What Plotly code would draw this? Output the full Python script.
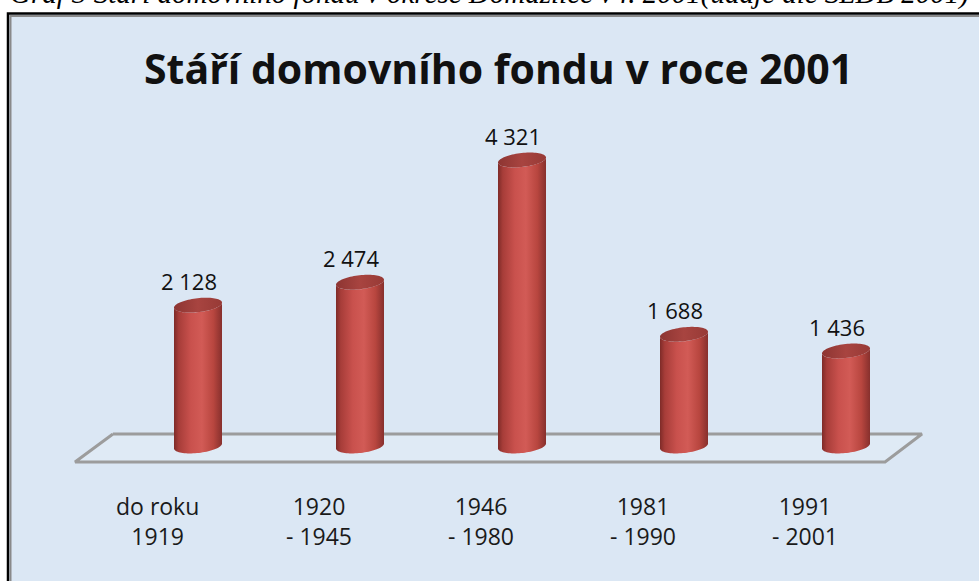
import numpy as np
import plotly.graph_objects as go

# ---- data ----
categories = ["do roku<br>1919", "1920<br>- 1945", "1946<br>- 1980", "1981<br>- 1990", "1991<br>- 2001"]
values = [2128, 2474, 4321, 1688, 1436]
title_text = "Stáří domovního fondu v roce 2001"
caption_text = "Graf 3 Stáří domovního fondu v okrese Domažlice v r. 2001(údaje dle SLDB 2001)"

# ---- geometry (pixel layout of the frame) ----
W, H = 979, 581
PX_PER_CAT = 162.0
FIRST_CAT_PX = 198.0
ZERO_PX = 446.0
PX_PER_UNIT = 286.0 / 4321.0

x_range = [(0 - FIRST_CAT_PX) / PX_PER_CAT, (W - FIRST_CAT_PX) / PX_PER_CAT]
y_range = [-(H - ZERO_PX) / PX_PER_UNIT, ZERO_PX / PX_PER_UNIT]

def dx(px):  # pixel distance -> x data distance
    return px / PX_PER_CAT

def dy(px):  # pixel distance -> y data distance
    return px / PX_PER_UNIT

half_w = dx(24)
ell_h = dy(7)
tilt = dy(2.5)

body_scale = [[0.0, "#7e2b28"], [0.10, "#a73d39"], [0.35, "#c9514d"], [0.58, "#d25b56"],
              [0.82, "#b8463f"], [1.0, "#87302d"]]
cap_scale = [[0.0, "#8d3532"], [0.5, "#a84440"], [1.0, "#973a36"]]

fig = go.Figure()

# floor (3-D base plane)
n = len(values)
bl, br = -0.525, n - 1 + 0.469
fl, fr = -0.759, n - 1 + 0.241
yb, yf = dy(ZERO_PX - 434), -dy(462 - ZERO_PX)
fig.add_trace(go.Scatter(
    x=[bl, br, fr, fl, bl], y=[yb, yb, yf, yf, yb], mode="lines",
    line=dict(color="#9c9c9c", width=3), fill="toself", fillcolor="rgba(255,255,255,0.12)",
    hoverinfo="skip", showlegend=False))

theta_front = np.linspace(np.pi, 2 * np.pi, 40)
theta_full = np.linspace(0, 2 * np.pi, 80)

for i, v in enumerate(values):
    tx = i + half_w * np.cos(theta_front)
    ty = v + ell_h * np.sin(theta_front) + tilt * np.cos(theta_front)
    bx = tx[::-1]
    by = (0 + ell_h * np.sin(theta_front) + tilt * np.cos(theta_front))[::-1]
    xs = np.concatenate([tx, bx, tx[:1]])
    ys = np.concatenate([ty, by, ty[:1]])
    fig.add_trace(go.Scatter(
        x=xs, y=ys, mode="none", fill="toself",
        fillgradient=dict(type="horizontal", colorscale=body_scale),
        hoverinfo="skip", showlegend=False))
    cx = i + half_w * np.cos(theta_full)
    cy = v + ell_h * np.sin(theta_full) + tilt * np.cos(theta_full)
    fig.add_trace(go.Scatter(
        x=cx, y=cy, mode="none", fill="toself",
        fillgradient=dict(type="horizontal", colorscale=cap_scale),
        hoverinfo="skip", showlegend=False))

# value labels
for i, v in enumerate(values):
    fig.add_annotation(
        x=i - dx(9), y=v, yanchor="bottom", yshift=7,
        text=f"{v:,}".replace(",", " "), showarrow=False,
        font=dict(family="Open Sans", size=22, color="#111111"))

# category labels
for i, c in enumerate(categories):
    fig.add_annotation(
        x=i - dx(41), y=-dy(521 - ZERO_PX), yanchor="middle",
        text=c, showarrow=False,
        font=dict(family="Open Sans", size=23, color="#1a1a1a"))

# title
fig.add_annotation(
    x=498 / W, y=1 - 68 / H, xref="paper", yref="paper", yanchor="middle",
    text=f"<b>{title_text}</b>", showarrow=False,
    font=dict(family="Open Sans", size=41, color="#111111"))

# caption (cut off at the top edge, as in the source)
fig.add_annotation(
    x=8 / W, y=1 - 12.5 / H, xref="paper", yref="paper", xanchor="left", yanchor="bottom",
    text=f"<i>{caption_text}</i>", showarrow=False,
    font=dict(family="Liberation Serif", size=29, color="#000000"))

# frame
fig.add_shape(type="rect", xref="paper", yref="paper",
              x0=8 / W, x1=1.05, y0=-0.05, y1=1 - 13.5 / H,
              line=dict(color="#000000", width=2.5), fillcolor="#dbe7f4", layer="below")
fig.add_shape(type="rect", xref="paper", yref="paper",
              x0=10.5 / W, x1=1.05, y0=-0.05, y1=1 - 16 / H,
              line=dict(color="#8a8a8a", width=2), fillcolor="rgba(0,0,0,0)", layer="below")

fig.update_layout(
    width=W, height=H, margin=dict(l=0, r=0, t=0, b=0),
    paper_bgcolor="#ffffff", plot_bgcolor="rgba(0,0,0,0)",
    xaxis=dict(range=x_range, visible=False, fixedrange=True),
    yaxis=dict(range=y_range, visible=False, fixedrange=True),
    showlegend=False,
)

fig.write_html("out.html", config={"displayModeBar": False},
               post_script="document.body.style.margin='0px';")
